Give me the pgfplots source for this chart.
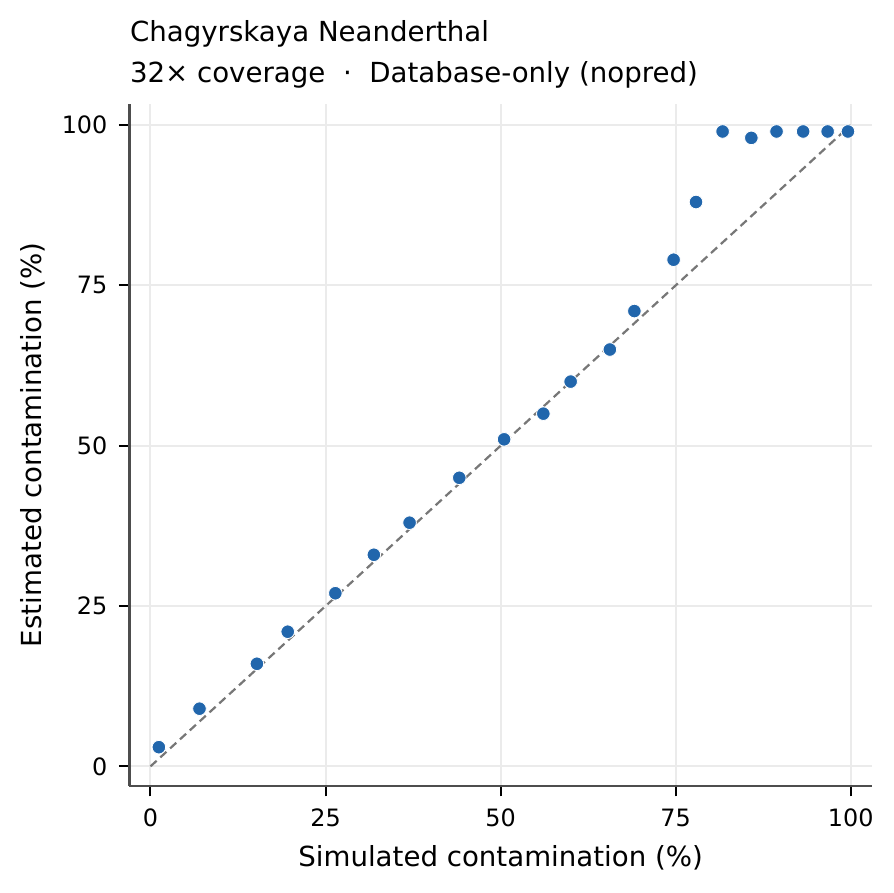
\documentclass[border=0pt]{standalone}
\usepackage{fontspec}
\setmainfont{DejaVu Sans}
\usepackage{pgfplots}
\pgfplotsset{compat=1.18}
\definecolor{ptc}{HTML}{2166AC}
\definecolor{gridc}{HTML}{EBEBEB}
\definecolor{spine}{HTML}{4D4D4D}
\definecolor{diag}{HTML}{777777}
\begin{document}
\begin{tikzpicture}
\begin{axis}[
 scale only axis, width=267.2pt, height=245.4pt,
 xmin=-3, xmax=103, ymin=-3, ymax=103.3,
 axis x line*=bottom, axis y line*=left,
 axis line style={spine, line width=0.75pt},
 xtick={0,25,50,75,100}, ytick={0,25,50,75,100},
 tick align=outside, major tick length=3.85pt,
 tick style={black, line width=0.72pt},
 grid=major, major grid style={gridc, line width=0.72pt},
 ticklabel style={font=\fontsize{8.6}{10}\selectfont, inner sep=0pt},
 /pgf/number format/assume math mode=true,
 xticklabel style={anchor=north, yshift=-4.4pt},
 yticklabel style={anchor=east, xshift=-3.9pt},
 clip=false,
]
\addplot[diag, line width=0.8pt, dash pattern=on 3pt off 1.8pt] coordinates {(0,0) (100,100)};
\addplot[only marks, mark=*, mark size=2.45pt, mark options={fill=ptc, draw=white, line width=0.3pt}] coordinates {
(1.2,3) (7.0,9) (15.2,16) (19.6,21) (26.4,27) (31.9,33) (37.0,38) (44.1,45) (50.5,51) (56.1,55) (60.0,60) (65.6,65) (69.1,71) (74.7,79) (77.9,88) (81.7,99) (85.8,98) (89.4,99) (93.2,99) (96.7,99) (99.6,99)
};
\coordinate (ll) at (rel axis cs:0,0);
\coordinate (ur) at (rel axis cs:1,1);
\node[anchor=base west, inner sep=0pt, font=\fontsize{9.95}{12}\selectfont, yshift=22.4pt] at (rel axis cs:0,1) {Chagyrskaya Neanderthal};
\node[anchor=base west, inner sep=0pt, font=\fontsize{9.95}{12}\selectfont, yshift=7.7pt] at (rel axis cs:0,1) {32×~coverage~~·~~Database-only (nopred)};
\node[anchor=base, inner sep=0pt, font=\fontsize{9.95}{12}\selectfont, yshift=-29.2pt] at (rel axis cs:0.5,0) {Simulated contamination (\%)};
\node[xshift=-31.7pt, rotate=90, anchor=base, inner sep=0pt, font=\fontsize{9.95}{12}\selectfont] at (rel axis cs:0,0.5) {Estimated contamination (\%)};
\end{axis}
\pgfresetboundingbox
\path[use as bounding box] ([xshift=-46.6pt,yshift=-38.6pt]ll) rectangle ([xshift=8.0pt,yshift=37.4pt]ur);
\end{tikzpicture}
\end{document}
